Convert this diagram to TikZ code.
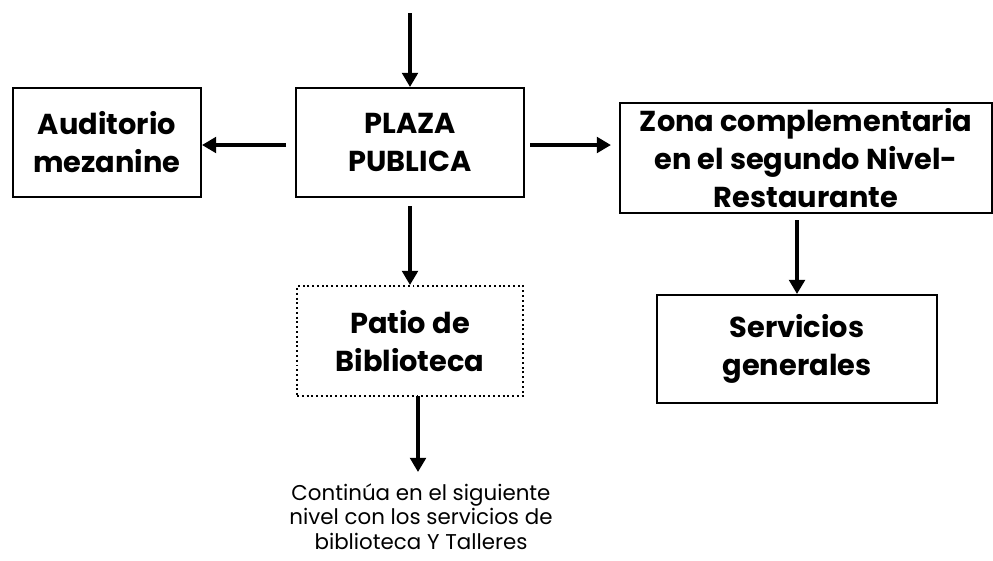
\documentclass[tikz,border=0pt]{standalone}
\usepackage{fontspec}
\setmainfont{Poppins}
\usetikzlibrary{arrows.meta}
\tikzset{
  areabox/.style={draw=black, line width=1.4pt, align=center, inner sep=0pt,
    font=\fontsize{20.5}{27}\selectfont\bfseries},
  flowarrow/.style={line width=2.8pt, -{Triangle[width=11pt,length=10pt]}}
}

\begin{document}
\begin{tikzpicture}[x=0.025cm, y=-0.025cm]
            \useasboundingbox (0,0) rectangle (993,560);
            % Centre
            \node[areabox, minimum width=5.7cm, minimum height=2.725cm] (plaza) at (410,142.5) {PLAZA\\PUBLICA};
            \coordinate (entry) at (410,13);

            % Sides
            \node[areabox, minimum width=4.7cm, minimum height=2.725cm] (auditorio) at (107,142.5) {Auditorio\\mezanine};

            \node[areabox, minimum width=9.3cm, minimum height=2.75cm] (zona) at (806,158) {Zona complementaria\\en el segundo Nivel-\\Restaurante};

            % Lower level
            \node[areabox, dotted, minimum width=5.65cm, minimum height=2.75cm] (patio) at (410,341) {Patio de\\Biblioteca};

            \node[areabox, minimum width=7cm, minimum height=2.7cm] (servicios) at (797,349) {Servicios\\generales};

            \node[align=center, inner sep=0pt, anchor=north, font=\fontsize{15.2}{17.5}\selectfont] (nota) at (421,483) {Continúa en el siguiente\\nivel con los servicios de\\biblioteca Y Talleres};

            % Arrow ends
            \coordinate (leftout) at (286,145);
            \coordinate (rightout) at (530,145);
            \coordinate (patioout) at (418,396);
            \coordinate (notain) at (418,472);

            % Arrows
            \draw[flowarrow] (entry) -- (plaza.north);
            \draw[flowarrow] (leftout) -- (auditorio.east |- leftout);
            \draw[flowarrow] (rightout) -- ([xshift=-0.2cm]zona.west |- rightout);
            \draw[flowarrow] ([yshift=-0.2cm]plaza.south) -- (patio.north);
            \draw[flowarrow] ([yshift=-0.15cm]zona.south -| servicios.north) -- (servicios.north);
            \draw[flowarrow] (patioout) -- (notain);
\end{tikzpicture}
\end{document}
